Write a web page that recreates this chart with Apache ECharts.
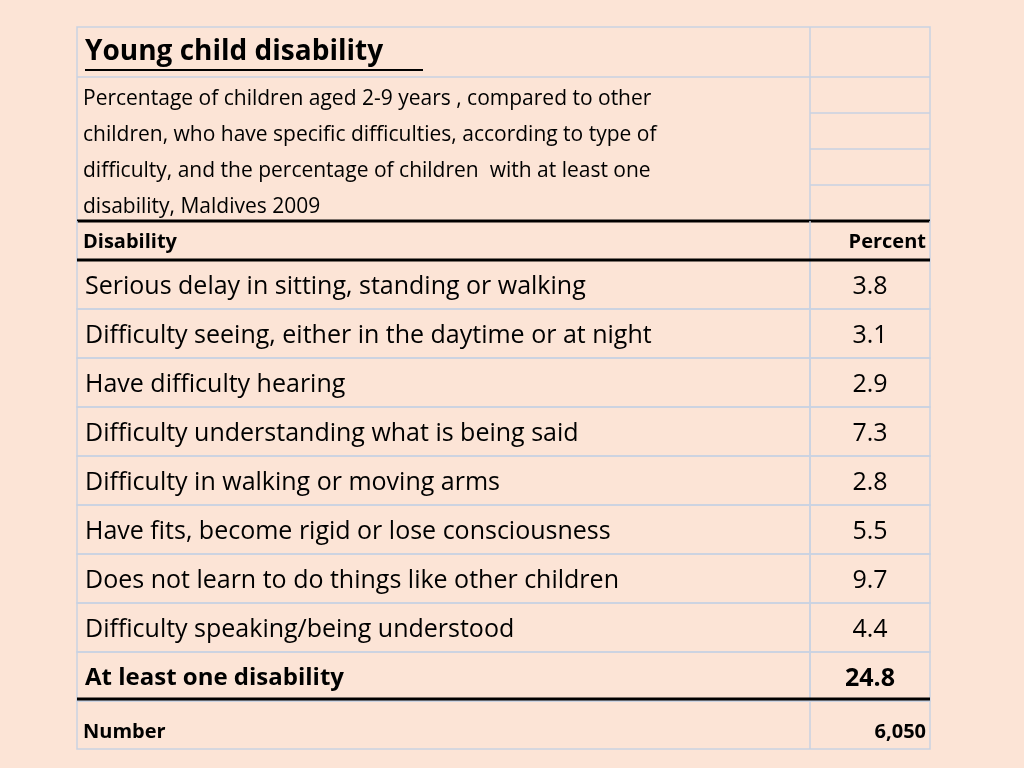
<!DOCTYPE html>
<html><head><meta charset="utf-8">
<script src="https://cdn.jsdelivr.net/npm/echarts@6/dist/echarts.min.js"></script>
<style>html,body{margin:0;padding:0;background:#FCE4D6}#c{width:1024px;height:768px}</style>
</head><body><div id="c"></div>
<script>
const title = "Young child disability";
const subtitleLines = ["Percentage of children aged 2-9 years , compared to other","children, who have specific difficulties, according to type of","difficulty, and the percentage of children  with at least one","disability, Maldives 2009"];
const categories = ["Serious delay in sitting, standing or walking","Difficulty seeing, either in the daytime or at night","Have difficulty hearing","Difficulty understanding what is being said","Difficulty in walking or moving arms","Have fits, become rigid or lose consciousness","Does not learn to do things like other children","Difficulty speaking/being understood","At least one disability"];
const values = [3.8,3.1,2.9,7.3,2.8,5.5,9.7,4.4,24.8];
const numberLabel = "Number";
const numberValue = "6,050";

const L=77,M=810,R=930,F='"Open Sans", Lato, sans-serif',G='#C9D2E2';
const chart = echarts.init(document.getElementById('c'));
const line=(x1,y1,x2,y2,c,w)=>({type:'line',shape:{x1,y1,x2,y2},style:{stroke:c,lineWidth:w},z:5});
const txt=(x,y,t,s,bold,align)=>({type:'text',x,y,style:{text:t,font:(bold?'bold ':'')+s+'px '+F,fill:'#000',textAlign:align||'left',textVerticalAlign:'middle'},z:6});
const g=[];
g.push({type:'rect',shape:{x:L,y:27,width:R-L,height:194},style:{fill:'none',stroke:G,lineWidth:1.5}});
g.push(line(M,27,M,221,G,1.5));
[77,113,149,185].forEach(y=>g.push(line(M,y,R,y,G,1.5)));
g.push(line(L,77,M,77,G,1.5));
g.push(txt(85,52,title,28,true));
g.push(line(85,70,423,70,'#000',2));
subtitleLines.forEach((s,i)=>g.push(txt(83,99+i*36,s,21,false)));
g.push(line(L,221,R,221,'#000',3));
g.push(line(L,221,L,260,G,1.5));g.push(line(M,221,M,260,G,1.5));g.push(line(R,221,R,260,G,1.5));
g.push(txt(83,242,'Disability',20,true));
g.push(txt(926,242,'Percent',20,true,'right'));
g.push(line(L,260,R,260,'#000',3));
g.push(line(L,699,R,699,'#000',3));
g.push({type:'rect',shape:{x:L,y:701,width:R-L,height:48},style:{fill:'none',stroke:G,lineWidth:1.5}});
g.push(line(M,701,M,749,G,1.5));
g.push(txt(83,732,numberLabel,20,true));
g.push(txt(926,732,numberValue,20,true,'right'));

chart.setOption({
 backgroundColor:'#FCE4D6',animation:false,
 grid:{left:L,right:1024-R,top:260,bottom:768-701},
 xAxis:{type:'value',min:0,max:1,show:false},
 yAxis:{type:'category',data:categories,inverse:true,show:false},
 graphic:g,
 series:[{type:'custom',data:values.map((v,i)=>[i,v]),encode:{y:0},
  renderItem:(p,api)=>{
   const i=api.value(0),c=api.coord([0,i]),h=api.size([0,1])[1];
   const top=c[1]-h/2,last=i===categories.length-1;
   const ch=[
    {type:'rect',shape:{x:L,y:top,width:M-L,height:h},style:{fill:'none',stroke:G,lineWidth:1.5}},
    {type:'rect',shape:{x:M,y:top,width:R-M,height:h},style:{fill:'none',stroke:G,lineWidth:1.5}},
    {type:'text',x:85,y:c[1]+2,style:{text:categories[i],font:(last?'bold 24px ':'25px ')+F,fill:'#000',textVerticalAlign:'middle'}},
    {type:'text',x:870,y:c[1]+2,style:{text:api.value(1).toFixed(1),font:(last?'bold ':'')+'25px '+F,fill:'#000',textAlign:'center',textVerticalAlign:'middle'}}
   ];
   return {type:'group',children:ch};
  }}]
});
</script></body></html>
